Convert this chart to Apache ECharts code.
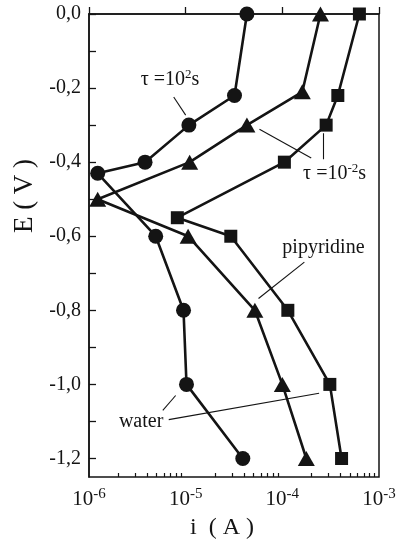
<!DOCTYPE html>
<html><head><meta charset="utf-8">
<script src="https://cdn.jsdelivr.net/npm/echarts@6/dist/echarts.min.js"></script>
<style>html,body{margin:0;padding:0;background:#fff}#c{width:396px;height:548px}</style>
</head><body><div id="c"></div>
<script>
// ---- data ----
const circlePotential   = [0, -0.22, -0.3, -0.4, -0.43, -0.6, -0.8, -1.0, -1.2];
const circleCurrent     = [4.3e-5, 3.2e-5, 1.08e-5, 3.8e-6, 1.23e-6, 4.9e-6, 9.5e-6, 1.02e-5, 3.9e-5];
const trianglePotential = [0, -0.21, -0.3, -0.4, -0.5, -0.6, -0.8, -1.0, -1.2];
const triangleCurrent   = [2.48e-4, 1.61e-4, 4.3e-5, 1.1e-5, 1.23e-6, 1.06e-5, 5.2e-5, 1.0e-4, 1.77e-4];
const squarePotential   = [0, -0.22, -0.3, -0.4, -0.55, -0.6, -0.8, -1.0, -1.2];
const squareCurrent     = [6.27e-4, 3.75e-4, 2.84e-4, 1.05e-4, 8.2e-6, 2.93e-5, 1.14e-4, 3.1e-4, 4.1e-4];

const xTickExponents = [-6, -5, -4, -3];
const yTickValues  = [0, -0.1, -0.2, -0.3, -0.4, -0.5, -0.6, -0.7, -0.8, -0.9, -1.0, -1.1, -1.2];
const yLabelValues = [0, -0.2, -0.4, -0.6, -0.8, -1.0, -1.2];
const yLabelTexts  = ['0,0', '-0,2', '-0,4', '-0,6', '-0,8', '-1,0', '-1,2'];

// annotations (text anchored at data positions)
const annotationTexts = ['τ =10{s|2}s', 'τ =10{s|-2}s', 'pipyridine', 'water'];
const annotationAnchors = [[3.43e-6, -0.178], [1.64e-4, -0.43], [1.0e-4, -0.63], [2.04e-6, -1.1]];
const leaderLines = [
  [[7.52e-6, -0.224], [1.0e-5, -0.273]],
  [[5.8e-5, -0.311], [1.99e-4, -0.389]],
  [[2.65e-4, -0.322], [2.65e-4, -0.392]],
  [[1.69e-4, -0.670], [5.67e-5, -0.768]],
  [[5.8e-6, -1.070], [7.88e-6, -1.03]],
  [[6.68e-6, -1.095], [2.40e-4, -1.024]]
];

const FONT = '"Liberation Serif", "DejaVu Serif", serif';
const INK = '#141414';

const zip = (xs, ys) => xs.map((x, i) => [x, ys[i]]);
const majorX = xTickExponents.map(e => Math.pow(10, e));
const minorX = [];
for (let e = xTickExponents[0]; e < xTickExponents[xTickExponents.length - 1]; e++) {
  for (let k = 2; k <= 9; k++) minorX.push(k * Math.pow(10, e));
}

function lineSeries(name, data, symbol, size) {
  return {
    name, type: 'line', data, symbol, symbolSize: size,
    showSymbol: true, xAxisIndex: 0, yAxisIndex: 0,
    lineStyle: { color: INK, width: 2.6 },
    itemStyle: { color: INK, borderWidth: 0 },
    z: 3
  };
}

const chart = echarts.init(document.getElementById('c'), null, { renderer: 'canvas' });
chart.setOption({
  animation: false,
  backgroundColor: '#fff',
  grid: { left: 89, right: 17, top: 14, bottom: 71, show: true, borderColor: INK, borderWidth: 1.5, outerBoundsMode: 'none' },
  xAxis: [
    {
      type: 'log', logBase: 10, min: majorX[0], max: majorX[majorX.length - 1],
      position: 'bottom',
      axisLine: { show: true, lineStyle: { color: INK, width: 1.5 } },
      axisTick: { show: true, inside: true, length: 7, customValues: majorX, lineStyle: { color: INK, width: 1.3 } },
      axisLabel: {
        show: true, customValues: majorX, margin: 10, color: INK,
        formatter: v => '{b|10}{s|' + Math.round(Math.log10(v)) + '}',
        rich: {
          b: { fontFamily: FONT, fontSize: 21, color: INK },
          s: { fontFamily: FONT, fontSize: 15, color: INK, padding: [0, 0, 10, 0] }
        }
      },
      splitLine: { show: false }
    },
    {
      type: 'log', logBase: 10, min: majorX[0], max: majorX[majorX.length - 1],
      position: 'bottom',
      axisLine: { show: false },
      axisTick: { show: true, inside: true, length: 4, customValues: minorX, lineStyle: { color: INK, width: 1.2 } },
      axisLabel: { show: false },
      splitLine: { show: false }
    }
  ],
  yAxis: {
    type: 'value', min: -1.25, max: 0,
    axisLine: { show: true, lineStyle: { color: INK, width: 1.5 } },
    axisTick: { show: true, inside: true, length: 7, customValues: yTickValues, lineStyle: { color: INK, width: 1.3 } },
    axisLabel: {
      show: true, customValues: yLabelValues, margin: 8, color: INK,
      fontFamily: FONT, fontSize: 20,
      formatter: v => {
        let best = 0;
        yLabelValues.forEach((t, i) => { if (Math.abs(t - v) < Math.abs(yLabelValues[best] - v)) best = i; });
        return yLabelTexts[best];
      }
    },
    splitLine: { show: false }
  },
  series: [
    lineSeries('circles', zip(circleCurrent, circlePotential), 'circle', 15),
    lineSeries('triangles', zip(triangleCurrent, trianglePotential), 'triangle', [17, 15]),
    lineSeries('squares', zip(squareCurrent, squarePotential), 'rect', 13),
    {
      type: 'lines', coordinateSystem: 'cartesian2d', xAxisIndex: 0, yAxisIndex: 0,
      data: leaderLines.map(c => ({ coords: c })),
      lineStyle: { color: INK, width: 1.1, opacity: 1, curveness: 0 },
      symbol: ['none', 'none'], z: 2
    },
    {
      type: 'scatter', xAxisIndex: 0, yAxisIndex: 0, symbolSize: 0, silent: true,
      itemStyle: { color: INK },
      data: annotationAnchors.map((p, i) => ({ value: p, text: annotationTexts[i] })),
      label: {
        show: true, position: 'right', distance: 0,
        formatter: p => p.data.text,
        fontFamily: FONT, fontSize: 20, color: INK, opacity: 1,
        textBorderWidth: 0,
        rich: { s: { fontFamily: FONT, fontSize: 13, color: INK, padding: [0, 0, 10, 0] } }
      },
      emphasis: { disabled: true },
      z: 4
    }
  ],
  graphic: [
    { type: 'text', x: 25, y: 196, rotation: Math.PI / 2,
      style: { text: 'E ( V )', font: '27px ' + FONT, fill: INK, align: 'center', verticalAlign: 'middle' } },
    { type: 'text', x: 222, y: 528,
      style: { text: 'i  ( A )', font: '24px ' + FONT, fill: INK, align: 'center', verticalAlign: 'middle' } }
  ]
});
</script>
</body></html>
